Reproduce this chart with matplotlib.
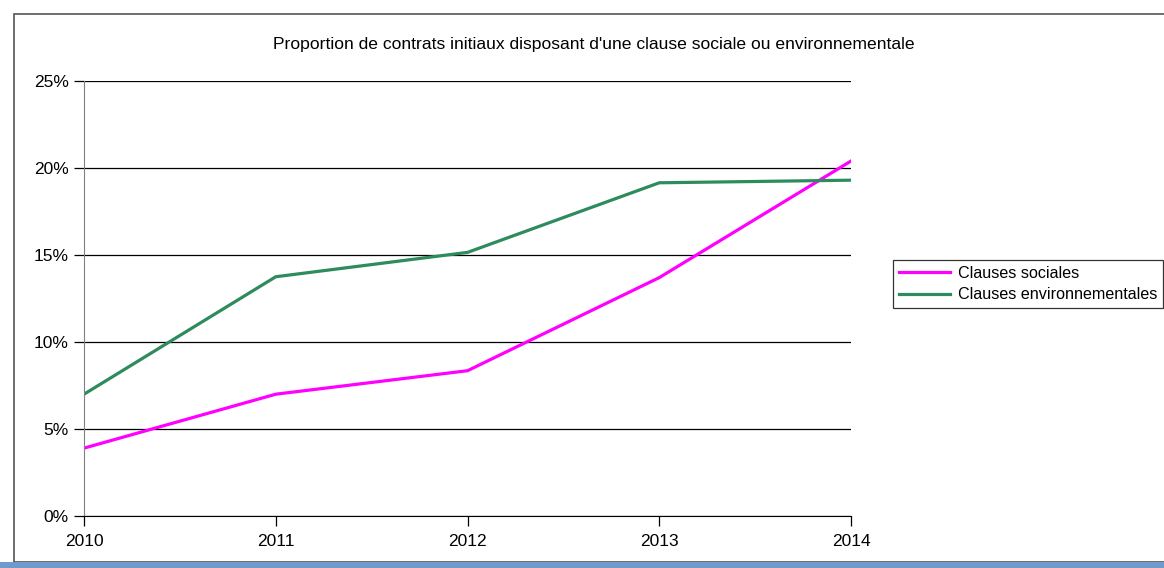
import matplotlib.pyplot as plt
from matplotlib.patches import Rectangle
from matplotlib.ticker import PercentFormatter

# Données
annees = [2010, 2011, 2012, 2013, 2014]
clauses_sociales = [3.9, 7.0, 8.35, 13.7, 20.4]
clauses_env = [7.0, 13.75, 15.15, 19.15, 19.3]

plt.rcParams['font.family'] = ['Liberation Sans', 'DejaVu Sans']

fig = plt.figure(figsize=(11.64, 5.68), dpi=100)

# cadre extérieur + bande bleue en bas
fig.patches.append(Rectangle((14 / 1164, 6 / 568), 1.0, 548 / 568, transform=fig.transFigure,
                             fill=False, edgecolor='#555555', linewidth=1.2))
fig.patches.append(Rectangle((0, 0), 1.0, 6 / 568, transform=fig.transFigure,
                             facecolor='#6f9acb', edgecolor='none'))

ax = fig.add_axes([84 / 1164, 52 / 568, 767 / 1164, 435 / 568])

ax.plot(annees, clauses_sociales, color='#ff00ff', linewidth=2.3, label='Clauses sociales')
ax.plot(annees, clauses_env, color='#2e8b5e', linewidth=2.3, label='Clauses environnementales')

ax.set_xlim(2010, 2014)
ax.set_ylim(0, 25)
ax.set_xticks(annees)
ax.set_yticks([0, 5, 10, 15, 20, 25])
ax.yaxis.set_major_formatter(PercentFormatter(decimals=0))
ax.grid(axis='y', color='black', linewidth=0.9)
ax.set_axisbelow(True)

for s in ['top', 'right']:
    ax.spines[s].set_visible(False)
ax.spines['left'].set_color('#808080')
ax.spines['bottom'].set_color('black')
ax.tick_params(axis='both', labelsize=12.5, length=7, width=0.9)
ax.tick_params(axis='x', pad=6)
ax.tick_params(axis='y', pad=4)

fig.text(594 / 1164, 1 - 45 / 568, "Proportion de contrats initiaux disposant d'une clause sociale ou environnementale",
         ha='center', va='center', fontsize=12.6)

leg = ax.legend(loc='center left', bbox_to_anchor=(893 / 1164, 1 - 284 / 568),
                bbox_transform=fig.transFigure, fontsize=11.6, frameon=True, fancybox=False,
                edgecolor='black', handlelength=3.2, borderpad=0.35, labelspacing=0.4,
                handletextpad=0.5, borderaxespad=0)
leg.get_frame().set_linewidth(0.9)

fig.savefig('out.png', dpi=100)
